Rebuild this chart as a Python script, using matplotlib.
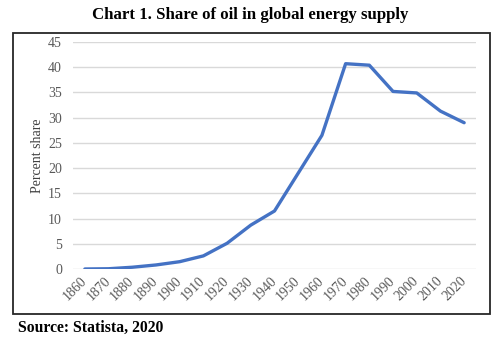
import matplotlib.pyplot as plt
from matplotlib.patches import Rectangle

years = ["1860", "1870", "1880", "1890", "1900", "1910", "1920", "1930", "1940",
         "1950", "1960", "1970", "1980", "1990", "2000", "2010", "2020"]
oil_share = [0.0, 0.05, 0.35, 0.8, 1.45, 2.6, 5.1, 8.7, 11.5,
             19.0, 26.5, 40.7, 40.4, 35.2, 34.9, 31.3, 29.0]
y_ticks = [0, 5, 10, 15, 20, 25, 30, 35, 40, 45]

plt.rcParams['font.family'] = ['Liberation Serif', 'DejaVu Serif']

W, H = 500, 342
fig = plt.figure(figsize=(W / 100, H / 100), dpi=100)

# outer frame around the chart area
fig.patches.append(Rectangle((13 / W, 1 - 314 / H), (490 - 13) / W, (314 - 33) / H,
                             transform=fig.transFigure, fill=False,
                             edgecolor='#262626', linewidth=1.3))

ax = fig.add_axes([73 / W, 1 - 269 / H, (476 - 73) / W, (269 - 42) / H])
x = list(range(len(years)))
ax.plot(x, oil_share, color='#4472C4', linewidth=2.4, solid_capstyle='round',
        solid_joinstyle='round', zorder=3)

ax.set_xlim(-0.5, len(years) - 0.5)
ax.set_ylim(0, 45)
ax.set_yticks(y_ticks)
ax.set_yticklabels([str(v) for v in y_ticks], fontsize=10, color='#595959')
ax.set_xticks(x)
ax.set_xticklabels(years, fontsize=10, color='#595959', rotation=45,
                   ha='right', va='center', rotation_mode='anchor')
ax.tick_params(axis='both', length=0)
ax.tick_params(axis='y', pad=8)
ax.tick_params(axis='x', pad=7)
ax.grid(axis='y', color='#d9d9d9', linewidth=1)
ax.set_axisbelow(True)
for s in ax.spines.values():
    s.set_visible(False)

ax.set_ylabel('Percent share', fontsize=10, color='#404040')
ax.yaxis.set_label_coords((44 - 73) / 403, 0.5)

fig.text(0.5, 1 - 15 / H, 'Chart 1. Share of oil in global energy supply',
         ha='center', va='center', fontsize=12.1, fontweight='bold')
fig.text(18 / W, 1 - 328 / H, 'Source: Statista, 2020',
         ha='left', va='center', fontsize=11.3, fontweight='bold')

fig.savefig('out.png', dpi=100)
